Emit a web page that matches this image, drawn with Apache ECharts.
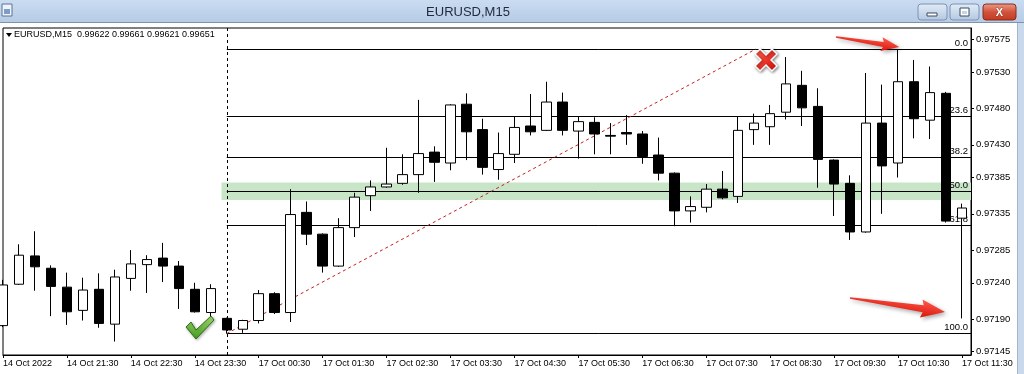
<!DOCTYPE html>
<html><head><meta charset="utf-8">
<script src="https://cdn.jsdelivr.net/npm/echarts@6/dist/echarts.min.js"></script>
<style>html,body{margin:0;padding:0;background:#fff;overflow:hidden}#c{width:1024px;height:374px}</style>
</head><body><div id="c"></div>
<script>
// ---- data (EURUSD M15, 14 Oct 2022 20:30 .. 17 Oct 2022 11:30) ----
const barTimes = [
  "14 Oct 20:30","14 Oct 20:45","14 Oct 21:00","14 Oct 21:15","14 Oct 21:30","14 Oct 21:45","14 Oct 22:00","14 Oct 22:15",
  "14 Oct 22:30","14 Oct 22:45","14 Oct 23:00","14 Oct 23:15","14 Oct 23:30","14 Oct 23:45",
  "17 Oct 00:00","17 Oct 00:15","17 Oct 00:30","17 Oct 00:45","17 Oct 01:00","17 Oct 01:15","17 Oct 01:30","17 Oct 01:45",
  "17 Oct 02:00","17 Oct 02:15","17 Oct 02:30","17 Oct 02:45","17 Oct 03:00","17 Oct 03:15","17 Oct 03:30","17 Oct 03:45",
  "17 Oct 04:00","17 Oct 04:15","17 Oct 04:30","17 Oct 04:45","17 Oct 05:00","17 Oct 05:15","17 Oct 05:30","17 Oct 05:45",
  "17 Oct 06:00","17 Oct 06:15","17 Oct 06:30","17 Oct 06:45","17 Oct 07:00","17 Oct 07:15","17 Oct 07:30","17 Oct 07:45",
  "17 Oct 08:00","17 Oct 08:15","17 Oct 08:30","17 Oct 08:45","17 Oct 09:00","17 Oct 09:15","17 Oct 09:30","17 Oct 09:45",
  "17 Oct 10:00","17 Oct 10:15","17 Oct 10:30","17 Oct 10:45","17 Oct 11:00","17 Oct 11:15","17 Oct 11:30"
];
const openP  = [0.97181,0.97238,0.97277,0.97260,0.97234,0.97202,0.97231,0.97183,0.97246,0.97265,0.97274,0.97263,0.97231,0.97199,
  0.97191,0.97176,0.97188,0.97225,0.97199,0.97337,0.97307,0.97263,0.97316,0.97360,0.97372,0.97377,0.97389,0.97420,0.97405,0.97486,
  0.97451,0.97396,0.97417,0.97456,0.97450,0.97489,0.97449,0.97461,0.97443,0.97447,0.97445,0.97416,0.97391,0.97339,0.97344,0.97369,
  0.97359,0.97451,0.97455,0.97475,0.97512,0.97483,0.97409,0.97377,0.97310,0.97460,0.97405,0.97517,0.97464,0.97501,0.97329];
const highP  = [0.97244,0.97293,0.97311,0.97264,0.97254,0.97247,0.97253,0.97258,0.97285,0.97278,0.97295,0.97270,0.97240,0.97238,
  0.97192,0.97189,0.97230,0.97227,0.97369,0.97352,0.97308,0.97329,0.97364,0.97381,0.97426,0.97417,0.97492,0.97428,0.97486,0.97501,
  0.97466,0.97447,0.97469,0.97500,0.97517,0.97502,0.97469,0.97468,0.97460,0.97471,0.97449,0.97440,0.97392,0.97359,0.97376,0.97394,
  0.97469,0.97473,0.97485,0.97551,0.97532,0.97508,0.97410,0.97388,0.97529,0.97513,0.97562,0.97547,0.97538,0.97503,0.97349];
const lowP   = [0.97179,0.97237,0.97229,0.97194,0.97182,0.97188,0.97178,0.97159,0.97229,0.97226,0.97241,0.97204,0.97199,0.97189,
  0.97170,0.97171,0.97184,0.97197,0.97186,0.97292,0.97254,0.97262,0.97303,0.97339,0.97371,0.97375,0.97364,0.97379,0.97395,0.97409,
  0.97389,0.97382,0.97405,0.97443,0.97449,0.97443,0.97411,0.97417,0.97417,0.97430,0.97404,0.97381,0.97318,0.97323,0.97337,0.97355,
  0.97350,0.97430,0.97430,0.97465,0.97456,0.97371,0.97332,0.97299,0.97309,0.97335,0.97385,0.97439,0.97438,0.97323,0.97191];
const closeP = [0.97237,0.97278,0.97262,0.97235,0.97200,0.97230,0.97184,0.97248,0.97266,0.97272,0.97263,0.97232,0.97200,0.97232,
  0.97175,0.97188,0.97225,0.97199,0.97334,0.97307,0.97263,0.97316,0.97358,0.97372,0.97376,0.97389,0.97418,0.97406,0.97485,0.97448,
  0.97399,0.97418,0.97454,0.97448,0.97489,0.97450,0.97462,0.97445,0.97442,0.97445,0.97414,0.97391,0.97339,0.97345,0.97369,0.97357,
  0.97450,0.97460,0.97473,0.97514,0.97481,0.97410,0.97376,0.97310,0.97460,0.97401,0.97517,0.97466,0.97502,0.97325,0.97343];

const yTickValues = [0.97575,0.97530,0.97480,0.97430,0.97385,0.97335,0.97285,0.97240,0.97190,0.97145];
const xTickIdx    = [0,4,8,12,16,20,24,28,32,36,40,44,48,52,56,60];
const xTickLabels = ["14 Oct 2022","14 Oct 21:30","14 Oct 22:30","14 Oct 23:30","17 Oct 00:30","17 Oct 01:30","17 Oct 02:30",
  "17 Oct 03:30","17 Oct 04:30","17 Oct 05:30","17 Oct 06:30","17 Oct 07:30","17 Oct 08:30","17 Oct 09:30","17 Oct 10:30","17 Oct 11:30"];

// Fibonacci retracement object
const fibLevels = [0, 23.6, 38.2, 50, 61.8, 100];
const fibHigh = 0.97562, fibLow = 0.97170;
const fibStartIdx = 14, fibTrendEndIdx = 47.1;
// green zone rectangle
const zoneStartIdx = 13.67, zoneTop = 0.97378, zoneBottom = 0.97354;
const headerText = "EURUSD,M15  0.99622 0.99661 0.99621 0.99651";
const windowTitle = "EURUSD,M15";

// ---- chart ----
const FONT = "Liberation Sans";
const xMin = 0, xMax = 60.5625, yMin = 0.971405, yMax = 0.97591;
const candleData = openP.map((o, i) => [i, o, closeP[i], lowP[i], highP[i]]);
const fibRange = fibHigh - fibLow;
const fibMarkLines = fibLevels.map(lv => {
  const p = fibHigh - lv / 100 * fibRange;
  return [{coord: [fibStartIdx, p], label: {formatter: lv.toFixed(1)}}, {coord: [xMax, p]}];
});

function plusShape(a, L) {
  return [[-a,-L],[a,-L],[a,-a],[L,-a],[L,a],[a,a],[a,L],[-a,L],[-a,a],[-L,a],[-L,-a],[-a,-a]];
}
function arrowShape(L, head, hw, sw) {
  return [[0,-0.8],[L-head+2,-sw],[L-head,-hw],[L,0],[L-head,hw],[L-head+2,sw],[0,0.8]];
}
const redFill = {type:'linear',x:0,y:0,x2:0,y2:1,colorStops:[{offset:0,color:'#ff5a4a'},{offset:1,color:'#d9140c'}]};

const chart = echarts.init(document.getElementById('c'), null, {renderer: 'canvas'});
chart.setOption({
  animation: false,
  backgroundColor: '#ffffff',
  grid: {left: 2, right: 53, top: 28, bottom: 19, show: true, borderColor: '#000', borderWidth: 1, backgroundColor: '#fff'},
  xAxis: {
    type: 'value', min: xMin, max: xMax,
    axisLine: {show: true, onZero: false, lineStyle: {color: '#000', width: 1}},
    axisTick: {show: true, length: 3, customValues: xTickIdx, lineStyle: {color: '#000'}},
    axisLabel: {customValues: xTickIdx, align: 'left', margin: 4, color: '#000', fontSize: 9, fontFamily: FONT,
      formatter: v => xTickLabels[xTickIdx.indexOf(Math.round(v))] || ''},
    splitLine: {show: false}
  },
  yAxis: {
    type: 'value', position: 'right', min: yMin, max: yMax, scale: true,
    axisLine: {show: true, onZero: false, lineStyle: {color: '#000', width: 1}},
    axisTick: {show: true, length: 3, customValues: yTickValues, lineStyle: {color: '#000'}},
    axisLabel: {customValues: yTickValues, margin: 5, color: '#000', fontSize: 9.5, fontFamily: FONT,
      formatter: v => v.toFixed(5)},
    splitLine: {show: false}
  },
  series: [
    {
      type: 'line', data: [], z: 1, silent: true,
      markArea: {silent: true, z: 1, itemStyle: {color: '#c8e5c8'},
        data: [[{coord: [zoneStartIdx, zoneTop]}, {coord: [xMax, zoneBottom]}]]},
      markLine: {
        silent: true, z: 2, symbol: ['none', 'none'], animation: false,
        lineStyle: {color: '#000', width: 1, type: 'solid'},
        label: {show: true, position: 'insideEndTop', distance: [3, 1], color: '#000', fontSize: 9.5, fontFamily: FONT},
        data: fibMarkLines.concat([
          [{coord: [fibStartIdx, fibLow], label: {show: false}, lineStyle: {color: '#c42020', type: [3, 3], width: 1}},
           {coord: [fibTrendEndIdx, fibHigh]}],
          {xAxis: fibStartIdx, label: {show: false}, lineStyle: {color: '#000', type: [3, 3], width: 1}}
        ])
      }
    },
    {
      type: 'candlestick', z: 3, barWidth: 10, clip: true,
      data: candleData,
      encode: {x: 0, y: [1, 2, 3, 4]},
      itemStyle: {color: '#ffffff', color0: '#000000', borderColor: '#000000', borderColor0: '#000000', borderWidth: 1}
    }
  ],
  graphic: {elements: [
    // window title bar
    {type: 'rect', z: 100, shape: {x: 0, y: 0, width: 1024, height: 22},
      style: {fill: {type:'linear',x:0,y:0,x2:0,y2:1,colorStops:[{offset:0,color:'#cadcf1'},{offset:1,color:'#b6cbe6'}]}}},
    {type: 'rect', z: 100, shape: {x: 0, y: 22, width: 1024, height: 1}, style: {fill: '#8193ab'}},
    {type: 'rect', z: 100, shape: {x: 2, y: 4, width: 10, height: 12}, style: {fill: '#eef3fa', stroke: '#5a7394', lineWidth: 1}},
    {type: 'rect', z: 100, shape: {x: 4, y: 9, width: 6, height: 5}, style: {fill: '#7f9cc4'}},
    {type: 'text', z: 100, x: 468, y: 12, style: {text: windowTitle, fill: '#1f2a3a', font: '13px ' + FONT, align: 'center', verticalAlign: 'middle'}},
    // window buttons
    {type: 'rect', z: 100, shape: {x: 918, y: 4, width: 29, height: 16, r: 3},
      style: {fill: {type:'linear',x:0,y:0,x2:0,y2:1,colorStops:[{offset:0,color:'#e3ecf7'},{offset:1,color:'#b3c7e1'}]}, stroke: '#7d93b2'}},
    {type: 'rect', z: 101, shape: {x: 927, y: 13, width: 10, height: 3}, style: {fill: '#fff', stroke: '#3a4a60', lineWidth: 1}},
    {type: 'rect', z: 100, shape: {x: 950, y: 4, width: 29, height: 16, r: 3},
      style: {fill: {type:'linear',x:0,y:0,x2:0,y2:1,colorStops:[{offset:0,color:'#e3ecf7'},{offset:1,color:'#b3c7e1'}]}, stroke: '#7d93b2'}},
    {type: 'rect', z: 101, shape: {x: 960, y: 8, width: 9, height: 8}, style: {fill: '#fff', stroke: '#3a4a60', lineWidth: 1}},
    {type: 'rect', z: 101, shape: {x: 962, y: 11, width: 5, height: 3}, style: {fill: '#c4d4ea'}},
    {type: 'rect', z: 100, shape: {x: 983, y: 4, width: 33, height: 16, r: 3},
      style: {fill: {type:'linear',x:0,y:0,x2:0,y2:1,colorStops:[{offset:0,color:'#e9a08c'},{offset:0.5,color:'#d2533a'},{offset:1,color:'#c23a22'}]}, stroke: '#8a2a1a'}},
    {type: 'text', z: 101, x: 999.5, y: 12.5, style: {text: 'X', fill: '#fff', font: 'bold 11px ' + FONT, align: 'center', verticalAlign: 'middle', stroke: '#7a2a1a', lineWidth: 0.6}},
    // right window frame
    {type: 'rect', z: 100, shape: {x: 1017, y: 23, width: 7, height: 351}, style: {fill: '#c9d8eb'}},
    {type: 'rect', z: 100, shape: {x: 1017, y: 23, width: 1, height: 351}, style: {fill: '#a3b6cf'}},
    // chart header
    {type: 'polygon', z: 100, shape: {points: [[6, 33], [12, 33], [9, 37]]}, style: {fill: '#000'}},
    {type: 'text', z: 100, x: 14, y: 35, style: {text: headerText, fill: '#000', font: '9px ' + FONT, verticalAlign: 'middle'}},
    // annotations
    {type: 'polygon', z: 110, x: 836, y: 37, rotation: -Math.atan2(10, 63),
      shape: {points: arrowShape(64, 18, 7, 2.5)},
      style: {fill: redFill, shadowBlur: 4, shadowColor: 'rgba(0,0,0,0.35)', shadowOffsetX: 2, shadowOffsetY: 2}},
    {type: 'polygon', z: 110, x: 850, y: 298, rotation: -Math.atan2(14, 95),
      shape: {points: arrowShape(96, 24, 9, 3.5)},
      style: {fill: redFill, shadowBlur: 4, shadowColor: 'rgba(0,0,0,0.35)', shadowOffsetX: 2, shadowOffsetY: 2}},
    {type: 'polygon', z: 110, x: 766, y: 60, rotation: Math.PI / 4,
      shape: {points: plusShape(3.6, 12)},
      style: {fill: redFill, stroke: '#fff', lineWidth: 1.5, shadowBlur: 3, shadowColor: 'rgba(0,0,0,0.45)', shadowOffsetX: 1, shadowOffsetY: 1}},
    {type: 'polygon', z: 110,
      shape: {points: [[186, 327], [191, 322], [196, 330], [211, 316], [214, 320], [196, 339]]},
      style: {fill: {type:'linear',x:0,y:0,x2:0,y2:1,colorStops:[{offset:0,color:'#a6e070'},{offset:1,color:'#3f9a1c'}]},
        stroke: '#2f6e18', lineWidth: 1, shadowBlur: 3, shadowColor: 'rgba(0,0,0,0.3)', shadowOffsetX: 1, shadowOffsetY: 1}}
  ]}
});
</script>
</body></html>
